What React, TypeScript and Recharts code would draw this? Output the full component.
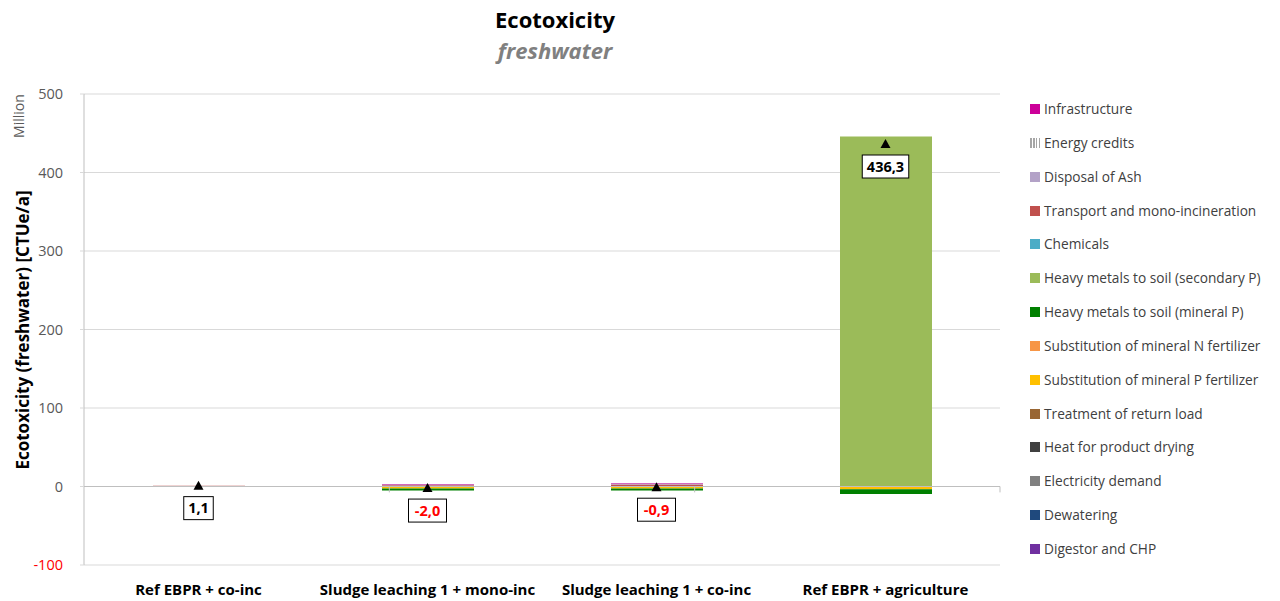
import React from 'react';
import { ComposedChart, Bar, Line, XAxis, YAxis, CartesianGrid, ReferenceLine } from 'recharts';

const FONT = '"Open Sans", Lato, sans-serif';

const categories = ['Ref EBPR + co-inc', 'Sludge leaching 1 + mono-inc', 'Sludge leaching 1 + co-inc', 'Ref EBPR + agriculture'];

// values in million CTUe/a
const digestorCHP = [0, 0, 0, 0];
const dewatering = [0, 0, 0, 0];
const electricityDemand = [0, 0, 0, 0];
const heatDrying = [0, 0, 0, 0];
const returnLoad = [0, 0, 0, 0];
const substP = [0, -2.5, -2.5, -3.5];
const substN = [0, 0, 0, 0];
const hmMineralP = [0, -2.7, -2.7, -6.2];
const hmSecondaryP = [0, 0, 0, 446.0];
const chemicals = [0, 0, 0, 0];
const transportMono = [1.1, 1.5, 2.5, 0];
const disposalAsh = [0, 1.2, 1.3, 0];
const energyCredits = [0, 0, 0, 0];
const infrastructure = [0, 0.5, 0.5, 0];
const totals = [1.1, -2.0, -0.9, 436.3];

const yTicks = [-100, 0, 100, 200, 300, 400, 500];

const series = [
  { key: 'digestor', name: 'Digestor and CHP', color: '#7030A0', values: digestorCHP },
  { key: 'dewatering', name: 'Dewatering', color: '#1F497D', values: dewatering },
  { key: 'electricity', name: 'Electricity demand', color: '#808080', values: electricityDemand },
  { key: 'heat', name: 'Heat for product drying', color: '#404040', values: heatDrying },
  { key: 'returnload', name: 'Treatment of return load', color: '#996633', values: returnLoad },
  { key: 'substP', name: 'Substitution of mineral P fertilizer', color: '#FFC000', values: substP },
  { key: 'substN', name: 'Substitution of mineral N fertilizer', color: '#F79646', values: substN },
  { key: 'hmMineral', name: 'Heavy metals to soil (mineral P)', color: '#008000', values: hmMineralP },
  { key: 'hmSecondary', name: 'Heavy metals to soil (secondary P)', color: '#9BBB59', values: hmSecondaryP },
  { key: 'chemicals', name: 'Chemicals', color: '#4BACC6', values: chemicals },
  { key: 'transport', name: 'Transport and mono-incineration', color: '#C0504D', values: transportMono },
  { key: 'ash', name: 'Disposal of Ash', color: '#B3A2C7', values: disposalAsh },
  { key: 'credits', name: 'Energy credits', color: 'url(#hatch)', values: energyCredits },
  { key: 'infra', name: 'Infrastructure', color: '#CC0099', values: infrastructure },
];

const data = categories.map((c, i) => {
  const row: any = { name: c, total: totals[i] };
  series.forEach((s) => { row[s.key] = s.values[i]; });
  return row;
});

const boundaries = [1, 2, 3, 4];

const TotalMarker = (props: any) => {
  const { cx, cy, value, index } = props;
  if (cx == null || cy == null) return <g key={index} />;
  const txt = Number(value).toFixed(1).replace('.', ',');
  const neg = value < 0;
  const w = txt.length * 8.5 + 4;
  const h = 23;
  const by = cy + 11;
  return (
    <g key={index}>
      <polygon points={`${cx - 5},${cy + 4} ${cx + 5},${cy + 4} ${cx},${cy - 5}`} fill="#000" />
      <rect x={cx - w / 2} y={by} width={w} height={h} fill="#fff" stroke="#000" strokeWidth={1} />
      <text x={cx} y={by + h / 2 + 5} textAnchor="middle" fontFamily={FONT} fontWeight="bold" fontSize={14.5} fill={neg ? '#FF0000' : '#000'}>{txt}</text>
    </g>
  );
};

const YTick = (props: any) => {
  const { x, y, payload } = props;
  return (
    <text x={x} y={y + 5} textAnchor="end" fontFamily={FONT} fontSize={14.5} fill={payload.value < 0 ? '#FF0000' : '#595959'}>{payload.value}</text>
  );
};

const XTick = (props: any) => {
  const { x, y, payload } = props;
  return (
    <text x={x} y={y + 22} textAnchor="middle" fontFamily={FONT} fontWeight="bold" fontSize={15} fill="#000">{payload.value}</text>
  );
};

const legendItems = [...series].reverse();

export default function App() {
  return (
    <div style={{ position: 'absolute', left: 0, top: 0, width: 1280, height: 601, background: '#fff', fontFamily: FONT }}>
      <div style={{ position: 'absolute', left: 405, width: 300, top: 4, textAlign: 'center', fontWeight: 'bold', fontSize: 22, color: '#000' }}>Ecotoxicity</div>
      <div style={{ position: 'absolute', left: 405, width: 300, top: 35, textAlign: 'center', fontWeight: 'bold', fontStyle: 'italic', fontSize: 22, color: '#808080' }}>freshwater</div>
      <ComposedChart width={1280} height={601} data={data} margin={{ top: 94, right: 280, bottom: 0, left: 0 }} stackOffset="sign">
        <defs>
          <pattern id="hatch" width="3" height="3" patternUnits="userSpaceOnUse">
            <rect width="3" height="3" fill="#fff" />
            <rect width="1.5" height="3" fill="#A6A6A6" />
          </pattern>
        </defs>
        <CartesianGrid vertical={false} stroke="#D9D9D9" />
        <XAxis dataKey="name" xAxisId={0} tick={<XTick />} axisLine={false} tickLine={false} height={36} interval={0} />
        <XAxis xAxisId="n" type="number" domain={[0, 4]} hide />
        <YAxis domain={[-100, 500]} ticks={yTicks} interval={0} width={84} tick={<YTick />} tickSize={4} tickMargin={17} axisLine={{ stroke: '#BFBFBF' }} tickLine={{ stroke: '#D9D9D9' }} />
        <ReferenceLine y={0} stroke="#BFBFBF" />
        {boundaries.map((b) => (
          <ReferenceLine key={b} xAxisId="n" segment={[{ x: b, y: 0 }, { x: b, y: -7.5 }]} stroke="#BFBFBF" />
        ))}
        {series.map((s) => (
          <Bar key={s.key} dataKey={s.key} name={s.name} stackId="a" fill={s.color} barSize={92} isAnimationActive={false} />
        ))}
        <Line dataKey="total" stroke="none" isAnimationActive={false} dot={(p: any) => <TotalMarker {...p} key={p.index} />} activeDot={false} legendType="none" />
      </ComposedChart>
      <div style={{ position: 'absolute', left: 0, top: 0, width: 40, height: 601 }}>
        <div style={{ position: 'absolute', left: 18, top: 116, transform: 'translate(-50%, -50%) rotate(-90deg)', whiteSpace: 'nowrap', fontSize: 14, color: '#595959' }}>Million</div>
        <div style={{ position: 'absolute', left: 22, top: 330, transform: 'translate(-50%, -50%) rotate(-90deg)', whiteSpace: 'nowrap', fontSize: 17, fontWeight: 'bold', color: '#000' }}>Ecotoxicity (freshwater) [CTUe/a]</div>
      </div>
      <div style={{ position: 'absolute', left: 1030, top: 99 }}>
        {legendItems.map((s) => (
          <div key={s.key} style={{ height: 33.85, display: 'flex', alignItems: 'flex-start', fontSize: 13.7, color: '#404040', lineHeight: '20px' }}>
            <span style={{ display: 'inline-block', width: 10, height: 10, marginTop: 5, marginRight: 4, background: s.key === 'credits' ? 'repeating-linear-gradient(90deg, #A6A6A6 0 1.5px, #fff 1.5px 3px)' : s.color }} />
            <span>{s.name}</span>
          </div>
        ))}
      </div>
    </div>
  );
}
